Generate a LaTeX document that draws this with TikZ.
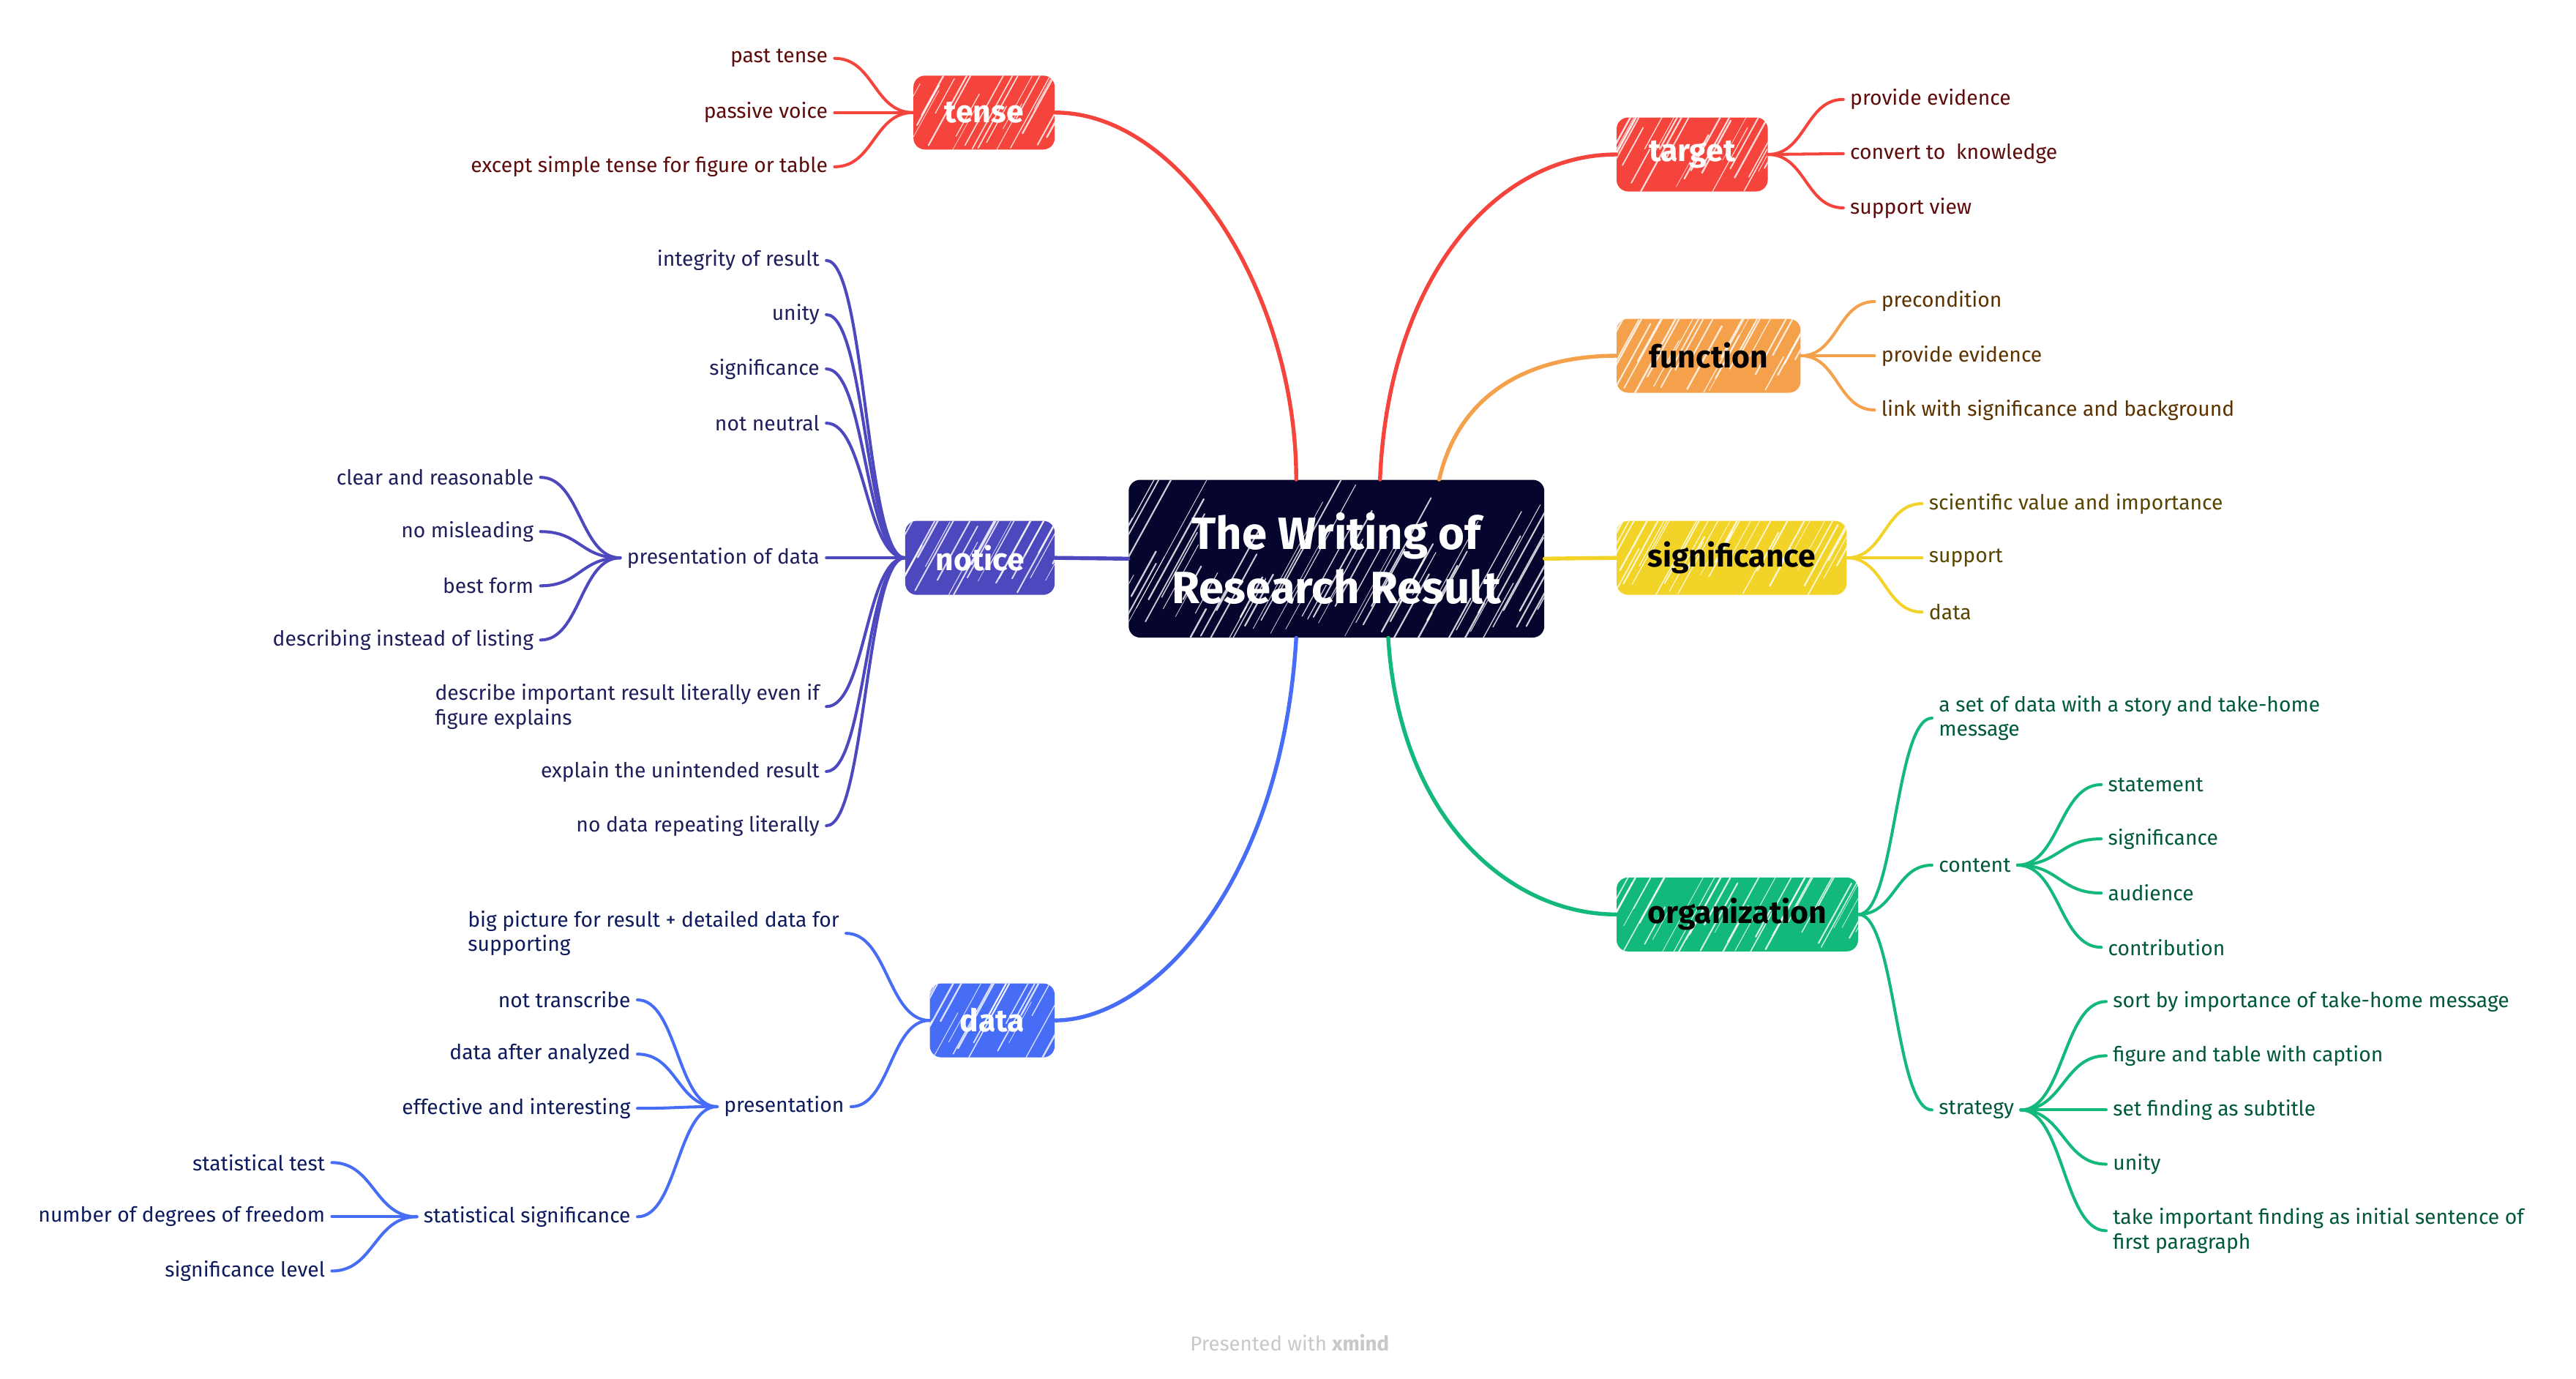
\documentclass[tikz,border=0pt]{standalone}
\usepackage{fontspec}
\setmainfont{Fira Sans}
\usetikzlibrary{calc}
\definecolor{cred}{HTML}{F5443C}
\definecolor{corange}{HTML}{F5A14C}
\definecolor{cyellow}{HTML}{F2D327}
\definecolor{cgreen}{HTML}{12B97B}
\definecolor{cindigo}{HTML}{4D48BE}
\definecolor{cblue}{HTML}{476CF5}
\definecolor{cnavy}{HTML}{05052E}
\definecolor{tred}{HTML}{5E0B0B}
\definecolor{tbrown}{HTML}{5C3200}
\definecolor{tolive}{HTML}{5A4500}
\definecolor{tgreen}{HTML}{00593A}
\definecolor{tindigo}{HTML}{1F1F5C}
\definecolor{tblue}{HTML}{0E1B5C}
\definecolor{footgray}{HTML}{C8C8C8}
\newcommand\hatchlines{%
  \foreach \k in {0,...,80}{%
    \pgfmathsetmacro\ho{rnd*4}%
    \pgfmathsetmacro\hw{0.3+rnd*0.8}%
    \pgfmathsetmacro\hl{15+rnd*70}%
    \pgfmathsetmacro\hy{rnd*30}%
    \draw[white,line width=\hw pt,opacity=0.8,line cap=round]
      ($(path picture bounding box.south west)+(\k*4.5pt+\ho pt-60pt,\hy pt-4pt)$)
      -- ++(0.55*\hl pt,\hl pt);
  }}
\newcommand\lk[3]{\draw[#1] (#2) .. controls ($(#2)!0.5!(#2-|#3)$) and ($(#3)!0.5!(#3-|#2)$) .. (#3);}
\begin{document}
\begin{tikzpicture}[x=1pt,y=-1pt,
  topic/.style={rounded corners=7pt,minimum height=45pt,inner sep=0pt,
    font=\fontsize{19}{22}\selectfont\bfseries,path picture={\hatchlines}},
  leafL/.style={anchor=east,inner xsep=4pt,inner ysep=1pt,align=left,
    font=\fontsize{12.6}{15}\selectfont},
  leafR/.style={anchor=west,inner xsep=4pt,inner ysep=1pt,align=left,
    font=\fontsize{12.6}{15}\selectfont},
  mainln/.style={line width=2.4pt,line cap=round},
  leafln/.style={line width=1.8pt,line cap=round}]
\pgfmathsetseed{7}
\useasboundingbox (0,0) rectangle (1568,839);
\fill[white] (0,0) rectangle (1568,839);

% central topic
\node[topic,fill=cnavy,minimum width=253pt,minimum height=96pt,text=white,align=center,
  font=\fontsize{27.5}{33}\selectfont\bfseries] (c) at (813.5,340) {The Writing of\\Research Result};

% main topics
\node[topic,fill=cred,minimum width=86pt,text=white] (tense) at (599,68.5) {tense};
\node[topic,fill=cred,minimum width=92pt,text=white] (target) at (1030,94) {target};
\node[topic,fill=corange,minimum width=112pt,text=black] (function) at (1040,216.5) {function};
\node[topic,fill=cyellow,minimum width=140pt,text=black] (signif) at (1054,339.5) {significance};
\node[topic,fill=cgreen,minimum width=147pt,text=black] (org) at (1057.5,556.5) {organization};
\node[topic,fill=cindigo,minimum width=91pt,text=white] (notice) at (596.5,339.5) {notice};
\node[topic,fill=cblue,minimum width=76pt,text=white] (data) at (604,621) {data};

% main connectors
\draw[cred,mainln] ([xshift=-24.5pt]c.north) .. controls (789,180) and (720,68.5) .. (tense.east);
\draw[cred,mainln] ([xshift=26.5pt]c.north) .. controls (845,170) and (910,94) .. (target.west);
\draw[corange,mainln] ([xshift=62.5pt]c.north) .. controls (888,240) and (930,216.5) .. (function.west);
\draw[cyellow,mainln] (c.east) -- (signif.west);
\draw[cgreen,mainln] ([xshift=31.5pt]c.south) .. controls (852,500) and (920,556.5) .. (org.west);
\draw[cindigo,mainln] (c.west) -- (notice.east);
\draw[cblue,mainln] ([xshift=-24.5pt]c.south) .. controls (780,540) and (700,621) .. (data.east);

% tense leaves
\begin{scope}[text=tred]
\node[leafL] (t1) at (508,35.5) {past tense};
\node[leafL] (t2) at (508,68.5) {passive voice};
\node[leafL] (t3) at (508,101.5) {except simple tense for figure or table};
\end{scope}
\foreach \n in {t1,t2,t3}{\lk{cred,leafln}{tense.west}{\n.east}}

% target leaves
\begin{scope}[text=tred]
\node[leafR] (g1) at (1122,60.5) {provide evidence};
\node[leafR] (g2) at (1122,93.5) {convert to\ \ knowledge};
\node[leafR] (g3) at (1122,126.5) {support view};
\end{scope}
\foreach \n in {g1,g2,g3}{\lk{cred,leafln}{target.east}{\n.west}}

% function leaves
\begin{scope}[text=tbrown]
\node[leafR] (f1) at (1141,183.5) {precondition};
\node[leafR] (f2) at (1141,216.5) {provide evidence};
\node[leafR] (f3) at (1141,249.5) {link with significance and background};
\end{scope}
\foreach \n in {f1,f2,f3}{\lk{corange,leafln}{function.east}{\n.west}}

% significance leaves
\begin{scope}[text=tolive]
\node[leafR] (s1) at (1170,306.5) {scientific value and importance};
\node[leafR] (s2) at (1170,339.5) {support};
\node[leafR] (s3) at (1170,372.5) {data};
\end{scope}
\foreach \n in {s1,s2,s3}{\lk{cyellow,leafln}{signif.east}{\n.west}}

% organization leaves
\begin{scope}[text=tgreen]
\node[leafR] (o1) at (1176,437) {a set of data with a story and take-home\\message};
\node[leafR] (o2) at (1176,526.5) {content};
\node[leafR] (o3) at (1176,675.5) {strategy};
\node[leafR] (c1) at (1279,477.5) {statement};
\node[leafR] (c2) at (1279,510.5) {significance};
\node[leafR] (c3) at (1279,543.5) {audience};
\node[leafR] (c4) at (1279,576.5) {contribution};
\node[leafR] (r1) at (1282,609.5) {sort by importance of take-home message};
\node[leafR] (r2) at (1282,642.5) {figure and table with caption};
\node[leafR] (r3) at (1282,675.5) {set finding as subtitle};
\node[leafR] (r4) at (1282,708.5) {unity};
\node[leafR] (r5) at (1282,749) {take important finding as initial sentence of\\first paragraph};
\end{scope}
\foreach \n in {o1,o2,o3}{\lk{cgreen,leafln}{org.east}{\n.west}}
\foreach \n in {c1,c2,c3,c4}{\lk{cgreen,leafln}{o2.east}{\n.west}}
\foreach \n in {r1,r2,r3,r4,r5}{\lk{cgreen,leafln}{o3.east}{\n.west}}

% notice leaves
\begin{scope}[text=tindigo]
\node[leafL] (n1) at (503,158.5) {integrity of result};
\node[leafL] (n2) at (503,191.5) {unity};
\node[leafL] (n3) at (503,224.5) {significance};
\node[leafL] (n4) at (503,257.5) {not neutral};
\node[leafL] (n5) at (503,339.5) {presentation of data};
\node[leafL] (n6) at (503,430) {describe important result literally even if\\figure explains};
\node[leafL] (n7) at (503,469.5) {explain the unintended result};
\node[leafL] (n8) at (503,502.5) {no data repeating literally};
\node[leafL] (p1) at (329,290.5) {clear and reasonable};
\node[leafL] (p2) at (329,323.5) {no misleading};
\node[leafL] (p3) at (329,356.5) {best form};
\node[leafL] (p4) at (329,389.5) {describing instead of listing};
\end{scope}
\foreach \n in {n1,n2,n3,n4,n5,n6,n7,n8}{\lk{cindigo,leafln}{notice.west}{\n.east}}
\foreach \n in {p1,p2,p3,p4}{\lk{cindigo,leafln}{n5.west}{\n.east}}

% data leaves
\begin{scope}[text=tblue]
\node[leafL] (d1) at (515,568) {big picture for result + detailed data for\\supporting};
\node[leafL] (d2) at (518,673.5) {presentation};
\node[leafL] (e1) at (388,608.5) {not transcribe};
\node[leafL] (e2) at (388,641.5) {data after analyzed};
\node[leafL] (e3) at (388,674.5) {effective and interesting};
\node[leafL] (e4) at (388,740.5) {statistical significance};
\node[leafL] (h1) at (202,707.5) {statistical test};
\node[leafL] (h2) at (202,740.5) {number of degrees of freedom};
\node[leafL] (h3) at (202,773.5) {significance level};
\end{scope}
\foreach \n in {d1,d2}{\lk{cblue,leafln}{data.west}{\n.east}}
\foreach \n in {e1,e2,e3,e4}{\lk{cblue,leafln}{d2.west}{\n.east}}
\foreach \n in {h1,h2,h3}{\lk{cblue,leafln}{e4.west}{\n.east}}

% footer
\node[font=\fontsize{12.3}{14}\selectfont,text=footgray] (foot) at (785,817) {Presented with \textbf{xmind}};
\end{tikzpicture}
\end{document}
